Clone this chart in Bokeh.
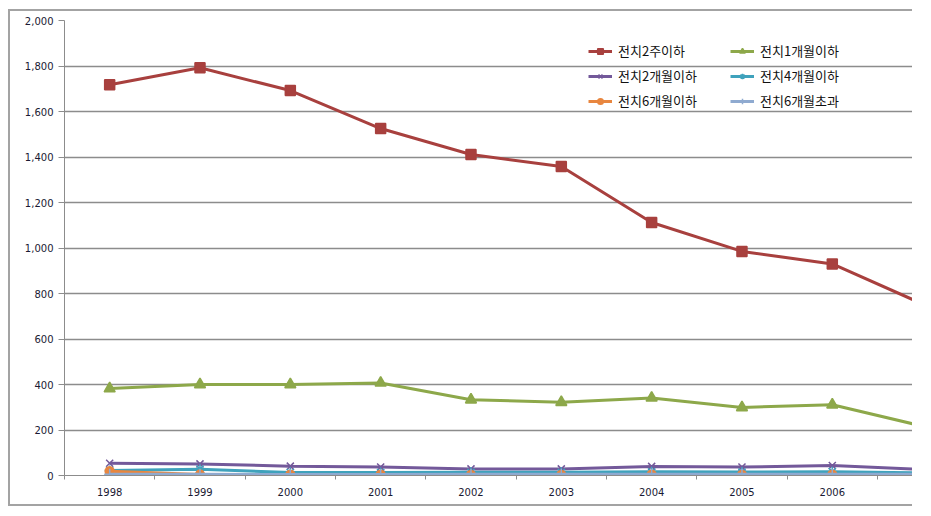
from bokeh.plotting import figure
from bokeh.models import (Range1d, FixedTicker, NumeralTickFormatter, Legend, LegendItem)
from bokeh.embed import file_html
from bokeh.resources import INLINE

years = [1998, 1999, 2000, 2001, 2002, 2003, 2004, 2005, 2006, 2007]
series_names = ["전치2주이하", "전치1개월이하", "전치2개월이하", "전치4개월이하", "전치6개월이하", "전치6개월초과"]
s_2w = [1718, 1792, 1692, 1525, 1411, 1358, 1112, 985, 930, 754]
s_1m = [382, 400, 400, 407, 333, 322, 341, 299, 311, 217]
s_2m = [54, 51, 41, 37, 29, 29, 40, 37, 44, 27]
s_4m = [22, 28, 13, 13, 14, 14, 16, 15, 17, 12]
s_6m = [19, 4, 3, 3, 2, 2, 3, 2, 3, 2]
s_6p = [6, 5, 4, 4, 5, 5, 6, 5, 6, 5]
y_ticks = [0, 200, 400, 600, 800, 1000, 1200, 1400, 1600, 1800, 2000]

series = [s_2w, s_1m, s_2m, s_4m, s_6m, s_6p]
colors = ["#A8403E", "#8DA84A", "#73599A", "#3FA2BC", "#E8863F", "#8FAAD0"]
markers = ["square", "triangle", "x", "asterisk", "circle", "cross"]
msizes = [10, 11, 10, 10, 9, 11]

p = figure(width=904, height=497, output_backend="svg", toolbar_location=None,
           x_range=Range1d(1997.5, 2006.91), y_range=Range1d(0, 2000),
           min_border_left=54, min_border_right=0, min_border_top=9, min_border_bottom=33,
           background_fill_color="white", border_fill_color="white")
p.outline_line_color = None
p.styles = {"margin-left": "8px", "margin-top": "9px",
            "border-left": "2px solid #a3a3a3", "border-top": "2px solid #a3a3a3",
            "border-bottom": "2px solid #a3a3a3"}

grey = "#8c8c8c"
p.xgrid.visible = False
p.ygrid.ticker = FixedTicker(ticks=y_ticks)
p.ygrid.grid_line_color = grey
p.ygrid.grid_line_width = 1.3

p.yaxis.ticker = FixedTicker(ticks=y_ticks)
p.yaxis.formatter = NumeralTickFormatter(format="0,0")
p.yaxis.axis_line_color = grey
p.yaxis.major_tick_line_color = grey
p.yaxis.major_tick_out = 6
p.yaxis.major_tick_in = 0
p.yaxis.minor_tick_line_color = None
p.yaxis.major_label_standoff = 5
p.yaxis.major_label_text_font = "DejaVu Sans"
p.yaxis.major_label_text_font_size = "10px"
p.yaxis.major_label_text_color = "#1a1a33"

p.xaxis.ticker = FixedTicker(ticks=years, minor_ticks=[y - 0.5 for y in years] + [2007.5])
p.xaxis.major_label_overrides = {y: str(y) for y in years}
p.xaxis.axis_line_color = grey
p.xaxis.major_tick_line_color = None
p.xaxis.minor_tick_line_color = grey
p.xaxis.minor_tick_out = 4
p.xaxis.minor_tick_in = 0
p.xaxis.major_label_standoff = 6
p.xaxis.major_label_text_font = "DejaVu Sans"
p.xaxis.major_label_text_font_size = "10px"
p.xaxis.major_label_text_color = "#1a1a33"

items = []
for name, vals, c, m, s in zip(series_names, series, colors, markers, msizes):
    r1 = p.line(years, vals, line_color=c, line_width=3)
    r2 = p.scatter(years, vals, marker=m, size=s, fill_color=c, line_color=c, line_width=1.5)
    items.append(LegendItem(label=name, renderers=[r1, r2]))

common = dict(background_fill_alpha=0, border_line_color=None,
              label_text_font="Noto Sans CJK KR", label_text_font_size="13px",
              label_text_color="#111111", glyph_width=24, glyph_height=14,
              label_standoff=6, spacing=6, padding=4, label_height=16)
leg1 = Legend(items=[items[0], items[2], items[4]], location=(524, 365), **common)
leg2 = Legend(items=[items[1], items[3], items[5]], location=(666, 365), **common)
p.add_layout(leg1, "center")
p.add_layout(leg2, "center")

open("out.html", "w").write(file_html(p, INLINE))
